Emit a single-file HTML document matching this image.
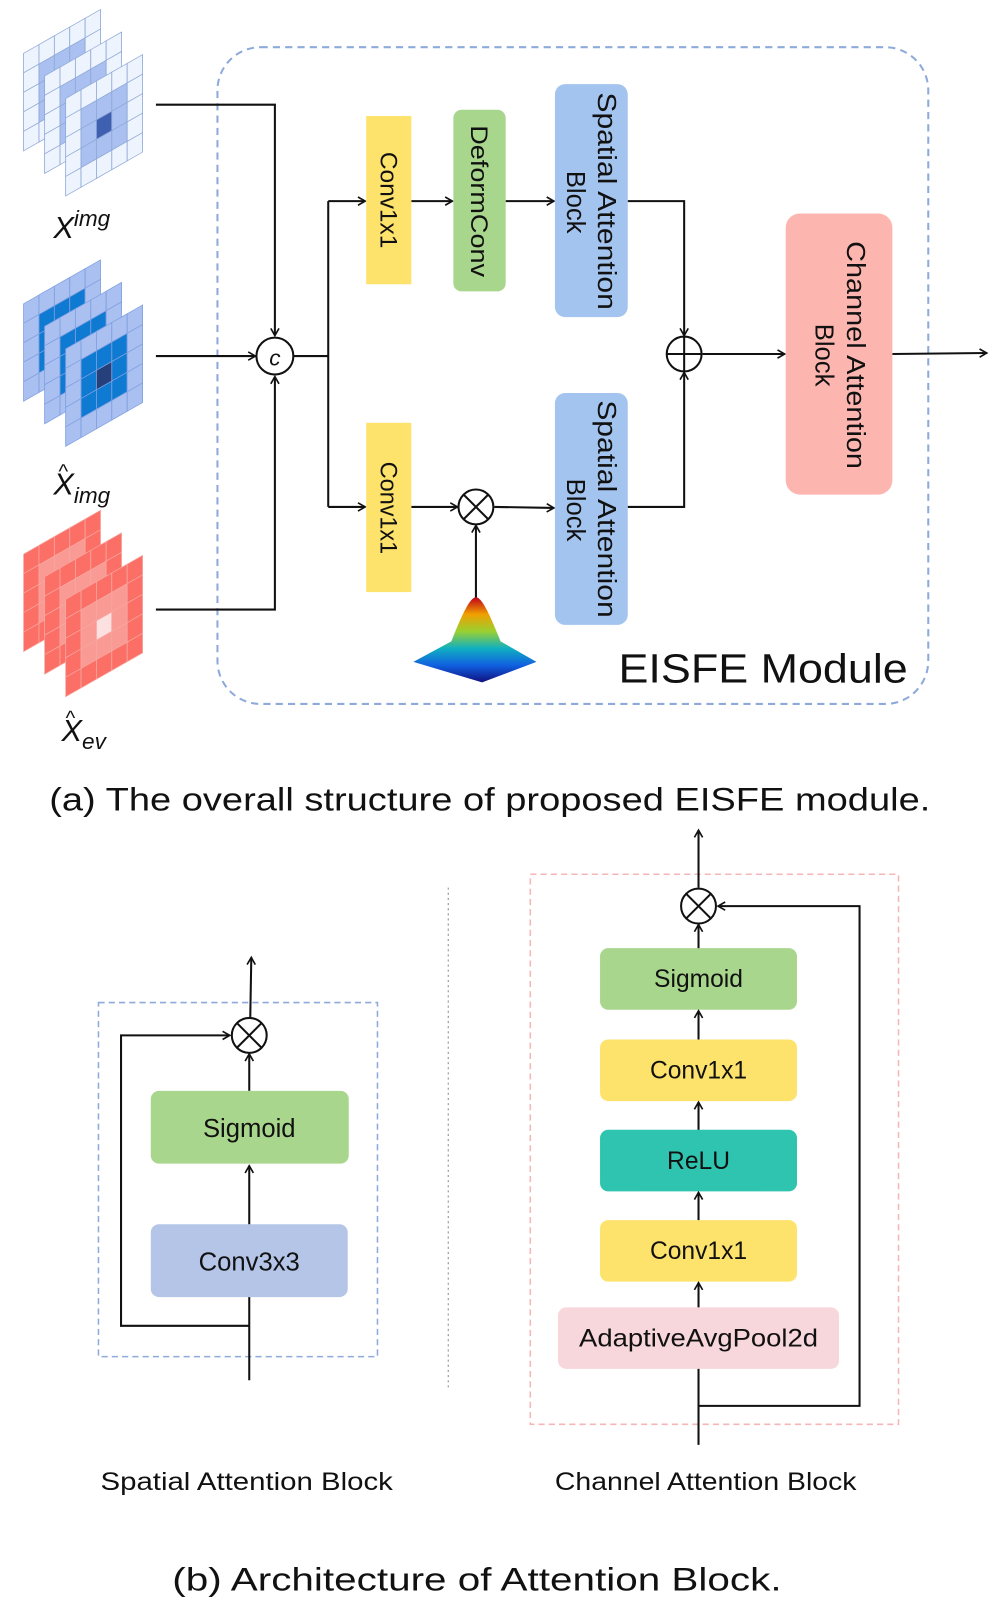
<!DOCTYPE html>
<html><head><meta charset="utf-8"><style>
html,body{margin:0;padding:0;background:#fff}
svg{display:block}
text{font-family:"Liberation Sans","DejaVu Sans",sans-serif;fill:#111}
</style></head><body>
<svg id="s" width="997" height="1608" viewBox="0 0 972 1567" preserveAspectRatio="none" xmlns="http://www.w3.org/2000/svg">
<defs>
<marker id="a" markerWidth="10" markerHeight="10" refX="8" refY="5" orient="auto" markerUnits="userSpaceOnUse"><path d="M1,1 L8,5 L1,9" fill="none" stroke="#111" stroke-width="1.6"/></marker>
<linearGradient id="g" x1="0" y1="0" x2="0" y2="1"><stop offset="0" stop-color="#c0001a"/><stop offset="0.2" stop-color="#f0a000"/><stop offset="0.4" stop-color="#9ad030"/><stop offset="0.6" stop-color="#10b0c0"/><stop offset="0.8" stop-color="#1060e0"/><stop offset="1" stop-color="#101080"/></linearGradient>
</defs>
<g id="grids"></g>
<rect x="212" y="46" width="693" height="640" rx="42" fill="none" stroke="#8eaadb" stroke-width="2" stroke-dasharray="7,5"/>
<g fill="none" stroke="#111" stroke-width="2">
<path d="M152,102 H268 V327" marker-end="url(#a)"/>
<path d="M152,347 H249" marker-end="url(#a)"/>
<path d="M152,594 H268 V367" marker-end="url(#a)"/>
<path d="M286,347 H320"/>
<path d="M320,196 V494"/>
<path d="M320,196 H356" marker-end="url(#a)"/>
<path d="M320,494 H356" marker-end="url(#a)"/>
<path d="M401,196 H441" marker-end="url(#a)"/>
<path d="M493,196 H540" marker-end="url(#a)"/>
<path d="M612,196 H667 V327" marker-end="url(#a)"/>
<path d="M612,494 H667 V363" marker-end="url(#a)"/>
<path d="M401,494 H446" marker-end="url(#a)"/>
<path d="M482,494 L540,495" marker-end="url(#a)"/>
<path d="M464,585 V512" marker-end="url(#a)"/>
<path d="M685,345 L765,345" marker-end="url(#a)"/>
<path d="M870,345 L962,344" marker-end="url(#a)"/>
</g>
<circle cx="268" cy="347" r="18" fill="#fff" stroke="#111" stroke-width="2"/>
<text x="268" y="356" font-size="22" text-anchor="middle" font-style="italic">c</text>
<circle cx="667" cy="345" r="17" fill="#fff" stroke="#111" stroke-width="2"/>
<path d="M650,345 H684 M667,328 V362" stroke="#111" stroke-width="2"/>
<circle cx="464" cy="494" r="17" fill="#fff" stroke="#111" stroke-width="2"/>
<path d="M452,482 L476,506 M476,482 L452,506" stroke="#111" stroke-width="2"/>
<rect x="357" y="113" width="44" height="164" fill="#fde36b"/>
<rect x="357" y="412" width="44" height="165" fill="#fde36b"/>
<rect x="442" y="107" width="51" height="177" rx="8" fill="#a9d68d"/>
<rect x="541" y="82" width="71" height="227" rx="10" fill="#a3c4ee"/>
<rect x="541" y="383" width="71" height="226" rx="10" fill="#a3c4ee"/>
<rect x="766" y="208" width="104" height="274" rx="14" fill="#fdb5b0"/>
<g font-size="23">
<text transform="translate(371,195) rotate(90)" text-anchor="middle" textLength="94" lengthAdjust="spacingAndGlyphs">Conv1x1</text>
<text transform="translate(371,495) rotate(90)" text-anchor="middle" textLength="90" lengthAdjust="spacingAndGlyphs">Conv1x1</text>
<text transform="translate(459,196) rotate(90)" text-anchor="middle" textLength="148" lengthAdjust="spacingAndGlyphs">DeformConv</text>
</g>
<g font-size="25">
<text transform="translate(583,196) rotate(90)" text-anchor="middle" textLength="212" lengthAdjust="spacingAndGlyphs">Spatial Attention</text>
<text transform="translate(553,197) rotate(90)" text-anchor="middle">Block</text>
<text transform="translate(583,496) rotate(90)" text-anchor="middle" textLength="212" lengthAdjust="spacingAndGlyphs">Spatial Attention</text>
<text transform="translate(553,497) rotate(90)" text-anchor="middle">Block</text>
<text transform="translate(826,346) rotate(90)" text-anchor="middle" textLength="222" lengthAdjust="spacingAndGlyphs">Channel Attention</text>
<text transform="translate(795,346) rotate(90)" text-anchor="middle">Block</text>
</g>
<path d="M403,645 L440,625 C450,600 458,582 464,582 C470,582 478,600 488,625 L523,645 L470,665 Z" fill="url(#g)"/>
<text x="603" y="665" font-size="40" textLength="282" lengthAdjust="spacingAndGlyphs">EISFE Module</text>
<text x="52" y="232" font-size="30" font-family="Liberation Serif" font-style="italic">X<tspan font-size="22" dy="-12">img</tspan></text>
<text x="52" y="482" font-size="30" font-family="Liberation Serif" font-style="italic">X<tspan font-size="22" dy="8">img</tspan></text>
<text x="57" y="466" font-size="20" font-family="Liberation Serif">^</text>
<text x="60" y="722" font-size="30" font-family="Liberation Serif" font-style="italic">X<tspan font-size="22" dy="8">ev</tspan></text>
<text x="64" y="706" font-size="20" font-family="Liberation Serif">^</text>
<text x="48" y="790" font-size="32" textLength="859" lengthAdjust="spacingAndGlyphs">(a) The overall structure of proposed EISFE module.</text>
<path d="M437,865 V1355" stroke="#888" stroke-width="1" stroke-dasharray="2,3"/>
<rect x="96" y="977" width="272" height="345" fill="none" stroke="#8eaadb" stroke-width="1.5" stroke-dasharray="6,4"/>
<rect x="147" y="1063" width="193" height="71" rx="8" fill="#a9d68d"/>
<rect x="147" y="1193" width="192" height="71" rx="8" fill="#b4c5e7"/>
<text x="243" y="1108" font-size="25" text-anchor="middle">Sigmoid</text>
<text x="243" y="1238" font-size="25" text-anchor="middle">Conv3x3</text>
<g fill="none" stroke="#111" stroke-width="2">
<path d="M243,1345 V1264"/>
<path d="M243,1193 V1136" marker-end="url(#a)"/>
<path d="M243,1063 V1027" marker-end="url(#a)"/>
<path d="M244,991 L245,933" marker-end="url(#a)"/>
<path d="M243,1292 H118 V1009 H224" marker-end="url(#a)"/>
</g>
<circle cx="243" cy="1009" r="17" fill="#fff" stroke="#111" stroke-width="2"/>
<path d="M231,997 L255,1021 M255,997 L231,1021" stroke="#111" stroke-width="2"/>
<text x="98" y="1452" font-size="24" textLength="285" lengthAdjust="spacingAndGlyphs">Spatial Attention Block</text>
<rect x="517" y="852" width="359" height="536" fill="none" stroke="#f4b6b6" stroke-width="1.5" stroke-dasharray="6,4"/>
<rect x="585" y="924" width="192" height="60" rx="8" fill="#a9d68d"/>
<rect x="585" y="1013" width="192" height="60" rx="8" fill="#fde36b"/>
<rect x="585" y="1101" width="192" height="60" rx="8" fill="#2ec4b0"/>
<rect x="585" y="1189" width="192" height="60" rx="8" fill="#fde36b"/>
<rect x="544" y="1274" width="274" height="60" rx="8" fill="#f8d7dc"/>
<g font-size="24" text-anchor="middle">
<text x="681" y="962">Sigmoid</text>
<text x="681" y="1051">Conv1x1</text>
<text x="681" y="1139">ReLU</text>
<text x="681" y="1227">Conv1x1</text>
<text x="681" y="1312" textLength="233" lengthAdjust="spacingAndGlyphs">AdaptiveAvgPool2d</text>
</g>
<g fill="none" stroke="#111" stroke-width="2">
<path d="M681,1408 V1334"/>
<path d="M681,1274 V1250" marker-end="url(#a)"/>
<path d="M681,1189 V1162" marker-end="url(#a)"/>
<path d="M681,1101 V1074" marker-end="url(#a)"/>
<path d="M681,1013 V985" marker-end="url(#a)"/>
<path d="M681,924 V901" marker-end="url(#a)"/>
<path d="M681,865 V809" marker-end="url(#a)"/>
<path d="M681,1370 H838 V883 H700" marker-end="url(#a)"/>
</g>
<circle cx="681" cy="883" r="17" fill="#fff" stroke="#111" stroke-width="2"/>
<path d="M669,871 L693,895 M693,871 L669,895" stroke="#111" stroke-width="2"/>
<text x="541" y="1452" font-size="24" textLength="294" lengthAdjust="spacingAndGlyphs">Channel Attention Block</text>
<text x="168" y="1550" font-size="32" textLength="594" lengthAdjust="spacingAndGlyphs">(b) Architecture of Attention Block.</text>
<script>
(function(){
var g=document.getElementById('grids'),ns='http://www.w3.org/2000/svg';
var sets=[{y:52,base:'#eef4fd',ring:'#a9c0f0',c:'#3f5fb0',st:'#8fa8d8'},
{y:296,base:'#a9c0f0',ring:'#0f7ad1',c:'#25407a',st:'#7f9fe0'},
{y:540,base:'#fb6f66',ring:'#f99a94',c:'#fde0e0',st:'#f7a7a0'}];
sets.forEach(function(s){
for(var l=0;l<3;l++){
var x0=23+l*20.5,y0=s.y+l*22;
var grp=document.createElementNS(ns,'g');
grp.setAttribute('transform','matrix(1,-0.57,0,1,'+x0+','+y0+')');
for(var r=0;r<5;r++)for(var c=0;c<5;c++){
var f=s.base;
if(r>=1&&r<=3&&c>=1&&c<=3)f=s.ring;
if(r==2&&c==2&&l==2)f=s.c;
var e=document.createElementNS(ns,'rect');
e.setAttribute('x',c*15);e.setAttribute('y',r*19);
e.setAttribute('width',15);e.setAttribute('height',19);
e.setAttribute('fill',f);e.setAttribute('stroke',s.st);e.setAttribute('stroke-width',0.8);
grp.appendChild(e);}
g.appendChild(grp);}
});
})();
</script>
</svg>
</body></html>
